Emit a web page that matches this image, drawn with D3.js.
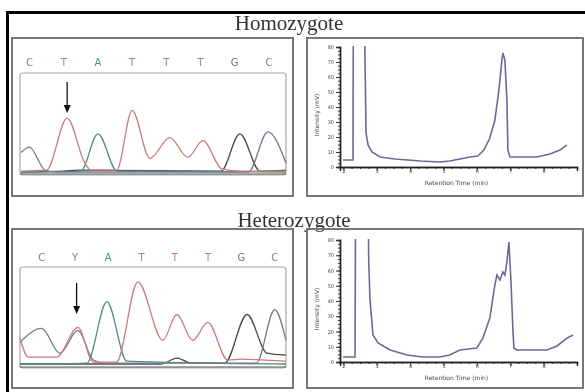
<!DOCTYPE html>
<html><head><meta charset="utf-8">
<script src="https://cdn.jsdelivr.net/npm/d3@7"></script>
<style>html,body{margin:0;padding:0;background:#fff;} svg{display:block}</style>
</head><body>
<script>
const W = 585, H = 392;

// ---------- data ----------
const panelTitles = ["Homozygote", "Heterozygote"];
const homBases = ["C", "T", "A", "T", "T", "T", "G", "C"];
const hetBases = ["C", "Y", "A", "T", "T", "T", "G", "C"];

// sequencing chromatogram traces: [base position, signal 0-100]
const homBlue  = [[-0.25,21],[0,26.5],[0.45,3],[0.8,1],[6.4,1],[6.97,42],[7.5,10]];
const homRed   = [[-0.25,2],[0.5,3],[1.1,56],[1.62,10],[1.8,3],[2.55,3],[3.0,64],[3.52,15],[4.1,36],[4.63,16],[5.07,33],[5.63,4],[6.2,2],[7.5,2]];
const homGreen = [[-0.25,1],[1.5,2],[2.0,40],[2.56,2],[7.5,1]];
const homBlack = [[-0.25,1],[1.0,2],[1.4,3],[5.6,2],[6.15,40],[6.74,2],[7.5,3]];

const hetBlue  = [[-0.65,24],[0,38],[0.55,13],[1.09,36],[1.55,6],[1.9,3],[6.45,3],[7.0,57],[7.34,26]];
const hetRed   = [[-0.65,28],[-0.4,9],[0.45,9],[1.09,39],[1.55,4],[2.25,4],[2.89,85],[3.64,26],[4.06,52],[4.54,26],[4.99,44],[5.59,6],[6.0,7],[6.7,6],[7.34,5]];
const hetGreen = [[-0.65,2],[1.36,3],[1.96,65],[2.56,5],[7.34,2]];
const hetBlack = [[-0.65,2],[3.6,2],[4.06,8],[4.5,3],[5.5,3],[6.17,52],[6.77,13],[7.34,11]];

// DHPLC traces: retention time (min) and intensity (mV)
const homTime = [1.99,2.29,2.30,2.62,2.65,2.68,2.74,2.86,3.1,3.55,4.3,4.89,5.19,5.49,5.79,6.03,6.21,6.39,6.54,6.66,6.75,6.78,6.84,6.9,6.93,6.99,7.8,8.19,8.49,8.7];
const homMv   = [4.7,4.7,120,120,71,22.7,14.7,10,6.7,5.3,4,3.3,4,5.3,6.7,7.3,11.3,19.3,31.3,51.3,71.3,76,71.3,44.7,11.3,6.7,6.7,8.7,11.3,14.7];
const hetTime = [1.99,2.35,2.37,2.74,2.76,2.8,2.89,3.04,3.4,3.91,4.38,4.89,5.19,5.49,6.0,6.18,6.39,6.54,6.6,6.69,6.78,6.84,6.9,6.96,7.02,7.08,7.11,7.2,8.1,8.4,8.7,8.88];
const hetMv   = [3.3,3.3,120,120,66,40.7,17.7,12.5,7.9,4.6,3.3,3.3,4.6,7.9,9.2,15.7,28.9,50.5,57,53.8,59,57,65.6,78.7,53.8,21,9.2,7.9,7.9,10.5,15.7,17.7];

const xTickValues = [2,3,4,5,6,7,8];
const yTickValues = [0,10,20,30,40,50,60,70,80];
const xAxisTitle = "Retention Time (min)";
const yAxisTitle = "Intensity (mV)";

// ---------- layout ----------
const rows = [
  { title: panelTitles[0], titleX: 289, titleY: 30, bases: homBases, arrowP: 1.1,
    traces: [homBlack, homGreen, homBlue, homRed], time: homTime, mv: homMv,
    box: {y0: 38, y1: 196}, inner: {x0: 20, x1: 286, y0: 73, base: 173, top: 75},
    pDomain: [-0.25, 7.5], pRange: [21, 286], lettersY: 66, arrowY: [82, 113],
    plot: {x0: 340, x1: 577, y0: 47, y1: 167}, tickLabelY: 177, axisTitleY: 185 },
  { title: panelTitles[1], titleX: 294, titleY: 227, bases: hetBases, arrowP: 1.05,
    traces: [hetBlack, hetGreen, hetBlue, hetRed], time: hetTime, mv: hetMv,
    box: {y0: 229, y1: 388}, inner: {x0: 20, x1: 286, y0: 267, base: 366, top: 267},
    pDomain: [-0.65, 7.34], pRange: [20, 286], lettersY: 261, arrowY: [283, 314],
    plot: {x0: 340, x1: 577, y0: 240, y1: 362}, tickLabelY: 372, axisTitleY: 380 }
];
const traceColors = ["#4a4a4a", "#4f8f78", "#6d7d92", "#cc7b7b"];
const letterColors = {C: "#7a8494", T: "#c47a7a", A: "#3f9a80", G: "#727272", Y: "#8a7c86"};

const svg = d3.select("body").append("svg").attr("width", W).attr("height", H);
const defs = svg.append("defs");
defs.append("filter").attr("id", "soft").append("feGaussianBlur").attr("stdDeviation", 0.45);
const root = svg.append("g").attr("filter", "url(#soft)");

// outer frame (top and left black lines)
root.append("line").attr("x1", 6).attr("y1", 12.5).attr("x2", W).attr("y2", 12.5)
  .attr("stroke", "#000").attr("stroke-width", 3);
root.append("line").attr("x1", 7.5).attr("y1", 11).attr("x2", 7.5).attr("y2", H)
  .attr("stroke", "#000").attr("stroke-width", 3);

rows.forEach((r, ri) => {
  // title
  root.append("text").attr("x", r.titleX).attr("y", r.titleY).attr("text-anchor", "middle")
    .attr("font-family", "Liberation Serif, serif").attr("font-size", 21).attr("fill", "#333")
    .text(r.title);

  // ---------- left: chromatogram ----------
  const g = root.append("g");
  g.append("rect").attr("x", 12).attr("y", r.box.y0).attr("width", 281).attr("height", r.box.y1 - r.box.y0)
    .attr("fill", "none").attr("stroke", "#777").attr("stroke-width", 2);
  g.append("rect").attr("x", r.inner.x0).attr("y", r.inner.y0).attr("width", r.inner.x1 - r.inner.x0)
    .attr("height", r.inner.base - r.inner.y0 + 2).attr("rx", 3)
    .attr("fill", "none").attr("stroke", "#a8a8a8").attr("stroke-width", 1.2);

  const px = d3.scaleLinear().domain(r.pDomain).range(r.pRange);
  const sy = d3.scaleLinear().domain([0, 100]).range([r.inner.base, r.inner.top]);

  g.selectAll("text.base").data(r.bases).join("text").attr("class", "base")
    .attr("x", (d, i) => px(i)).attr("y", r.lettersY).attr("text-anchor", "middle")
    .attr("font-family", "DejaVu Sans, sans-serif").attr("font-size", 10)
    .attr("fill", d => letterColors[d]).text(d => d);

  const line = d3.line().x(d => px(d[0])).y(d => sy(d[1])).curve(d3.curveMonotoneX);
  g.append("line").attr("x1", r.inner.x0).attr("x2", r.inner.x1).attr("y1", r.inner.base + 1).attr("y2", r.inner.base + 1)
    .attr("stroke", "#555").attr("stroke-width", 1.2);
  r.traces.forEach((t, ti) => {
    g.append("path").attr("d", line(t)).attr("fill", "none")
      .attr("stroke", traceColors[ti]).attr("stroke-width", 1.3);
  });

  // arrow
  const ax = px(r.arrowP);
  g.append("line").attr("x1", ax).attr("x2", ax).attr("y1", r.arrowY[0]).attr("y2", r.arrowY[1] - 6)
    .attr("stroke", "#111").attr("stroke-width", 1.3);
  g.append("path").attr("d", `M${ax - 3.5},${r.arrowY[1] - 8} L${ax + 3.5},${r.arrowY[1] - 8} L${ax},${r.arrowY[1]} Z`)
    .attr("fill", "#111");

  // ---------- right: DHPLC ----------
  const h = root.append("g");
  h.append("rect").attr("x", 307).attr("y", r.box.y0).attr("width", 276).attr("height", r.box.y1 - r.box.y0)
    .attr("fill", "none").attr("stroke", "#777").attr("stroke-width", 2);

  const x = d3.scaleLinear().domain([1.9, 9.0]).range([r.plot.x0, r.plot.x1]);
  const y = d3.scaleLinear().domain([0, 80]).range([r.plot.y1, r.plot.y0]);

  const clipId = "clip" + ri;
  defs.append("clipPath").attr("id", clipId).append("rect")
    .attr("x", r.plot.x0).attr("y", r.plot.y0 - 1).attr("width", r.plot.x1 - r.plot.x0).attr("height", r.plot.y1 - r.plot.y0 + 1);

  const dl = d3.line().x((d, i) => x(r.time[i])).y(d => y(d));
  h.append("path").attr("clip-path", `url(#${clipId})`).attr("d", dl(r.mv))
    .attr("fill", "none").attr("stroke", "#6a6a98").attr("stroke-width", 1.6);

  // axes
  const yMinor = h.append("g").attr("transform", `translate(${r.plot.x0},0)`)
    .call(d3.axisLeft(y).tickValues(d3.range(0, 81, 2.5)).tickSize(2).tickFormat(""));
  const yMajor = h.append("g").attr("transform", `translate(${r.plot.x0},0)`)
    .call(d3.axisLeft(y).tickValues(yTickValues).tickSize(4).tickPadding(2));
  const xMinor = h.append("g").attr("transform", `translate(0,${r.plot.y1})`)
    .call(d3.axisBottom(x).tickValues(d3.range(2, 9.01, 0.25)).tickSize(2).tickFormat(""));
  const xMajor = h.append("g").attr("transform", `translate(0,${r.plot.y1})`)
    .call(d3.axisBottom(x).tickValues(xTickValues).tickSize(4).tickFormat(d3.format("d")));
  [yMinor, yMajor, xMinor, xMajor].forEach(a => {
    a.select(".domain").attr("stroke", "#222").attr("stroke-width", 1.4);
    a.selectAll(".tick line").attr("stroke", "#333");
    a.selectAll("text").attr("font-family", "DejaVu Sans, sans-serif").attr("font-size", 5).attr("fill", "#444");
  });
  xMajor.selectAll(".tick text").attr("y", r.tickLabelY - r.plot.y1 - 4).attr("dy", 0);

  h.append("text").attr("x", (r.plot.x0 + 573) / 2).attr("y", r.axisTitleY).attr("text-anchor", "middle")
    .attr("font-family", "DejaVu Sans, sans-serif").attr("font-size", 6).attr("fill", "#444").text(xAxisTitle);
  h.append("text").attr("transform", `translate(319,${(r.plot.y0 + r.plot.y1) / 2 + 8}) rotate(-90)`)
    .attr("text-anchor", "middle").attr("font-family", "DejaVu Sans, sans-serif").attr("font-size", 6)
    .attr("fill", "#444").text(yAxisTitle);
});
</script>
</body></html>
